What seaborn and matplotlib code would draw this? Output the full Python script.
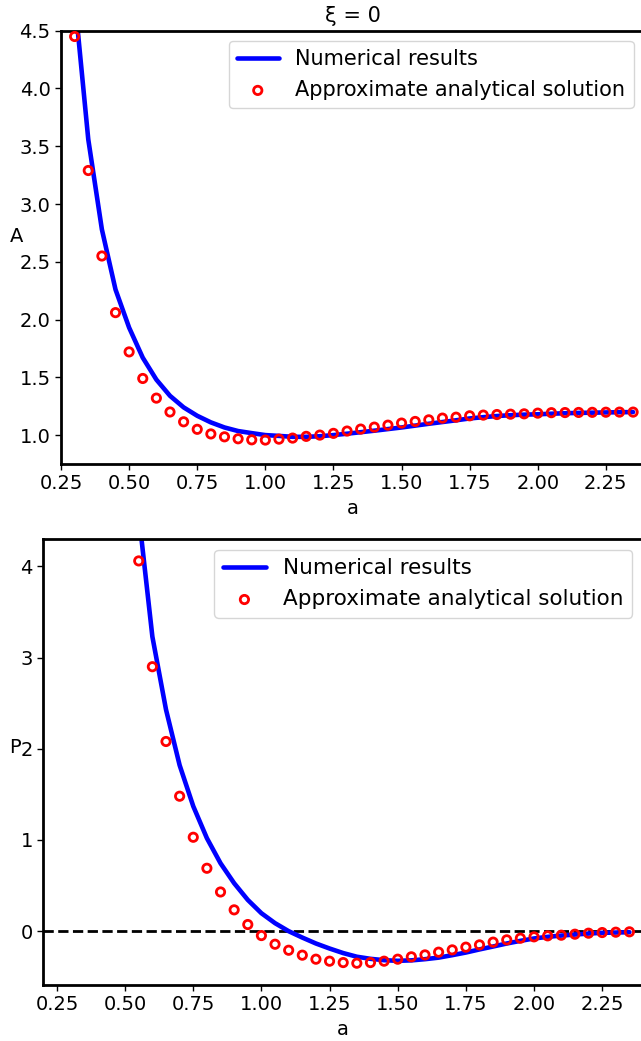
import numpy as np
import pandas as pd
import matplotlib
matplotlib.use("Agg")
import matplotlib.pyplot as plt
import seaborn as sns

# --- data ---
a_pts = np.round(np.arange(0.30, 2.351, 0.05), 2)
A_approx = [4.45, 3.29, 2.55, 2.06, 1.72, 1.49, 1.32, 1.20, 1.115, 1.05,
            1.01, 0.985, 0.968, 0.959, 0.957, 0.965, 0.974, 0.989, 1.00, 1.015,
            1.035, 1.052, 1.069, 1.086, 1.104, 1.118, 1.132, 1.147, 1.155, 1.167,
            1.173, 1.178, 1.181, 1.184, 1.19, 1.194, 1.195, 1.196, 1.197, 1.198,
            1.199, 1.199]
A_num = [4.78, 3.56, 2.78, 2.26, 1.93, 1.67, 1.48, 1.34, 1.24, 1.167,
         1.11, 1.066, 1.035, 1.017, 1.0, 0.993, 0.985, 0.985, 0.99, 1.0,
         1.012, 1.025, 1.038, 1.052, 1.066, 1.082, 1.098, 1.113, 1.128, 1.144,
         1.155, 1.165, 1.172, 1.177, 1.18, 1.185, 1.189, 1.192, 1.194, 1.196,
         1.198, 1.199]

a_p2 = np.round(np.arange(0.55, 2.351, 0.05), 2)
P2_approx = [4.06, 2.90, 2.08, 1.48, 1.03, 0.69, 0.43, 0.234, 0.073, -0.048,
             -0.143, -0.209, -0.263, -0.307, -0.329, -0.344, -0.351, -0.344, -0.329, -0.307,
             -0.281, -0.26, -0.23, -0.205, -0.175, -0.15, -0.12, -0.095, -0.077, -0.062,
             -0.051, -0.044, -0.033, -0.022, -0.015, -0.011, -0.007]
P2_num = [4.57, 3.23, 2.43, 1.82, 1.37, 1.02, 0.745, 0.526, 0.343, 0.197,
          0.088, 0.0, -0.07, -0.135, -0.19, -0.24, -0.28, -0.303, -0.318, -0.325,
          -0.32, -0.307, -0.29, -0.263, -0.234, -0.20, -0.168, -0.135, -0.106, -0.08,
          -0.062, -0.048, -0.037, -0.026, -0.018, -0.015, -0.011]

xticks = [0.25, 0.50, 0.75, 1.00, 1.25, 1.50, 1.75, 2.00, 2.25]

sns.set_style("ticks")
plt.rcParams['font.family'] = ['DejaVu Sans']
plt.rcParams['font.size'] = 14
for key in ['text.color', 'axes.labelcolor', 'xtick.color', 'ytick.color']:
    plt.rcParams[key] = 'black'

fig = plt.figure(figsize=(6.41, 10.41), dpi=100)
ax1 = fig.add_axes([0.0952, 0.5543, 0.9095, 0.4162])
ax2 = fig.add_axes([0.0676, 0.0538, 0.9356, 0.4284])


def draw(ax, x, y_num, y_approx, legend_size):
    sns.lineplot(x=x, y=y_num, ax=ax, color="blue", lw=3.3, label="Numerical results")
    sns.scatterplot(x=x, y=y_approx, ax=ax, marker="o", s=36, facecolor="none",
                    edgecolor="red", linewidth=2, label="Approximate analytical solution",
                    zorder=3)
    ax.legend(loc="upper right", fontsize=legend_size)
    for sp in ax.spines.values():
        sp.set_linewidth(2)
        sp.set_color("black")
    ax.tick_params(labelsize=14, width=1, length=4)
    ax.set_xticks(xticks)
    ax.set_xticklabels([f"{t:.2f}" for t in xticks])
    ax.set_xlabel("a", fontsize=14)


draw(ax1, a_pts, A_num, A_approx, 15)
ax1.set_xlim(0.25, 2.39)
ax1.set_ylim(0.75, 4.5)
ax1.set_ylabel("A", rotation=0, fontsize=14, va="center", ha="center")
ax1.yaxis.set_label_coords(-0.077, 0.524)
ax1.set_title("ξ = 0", fontsize=15)

draw(ax2, a_p2, P2_num, P2_approx, 15.5)
ax2.axhline(0, color="black", ls="--", lw=2, zorder=1)
ax2.set_xlim(0.2, 2.4)
ax2.set_ylim(-0.59, 4.3)
ax2.set_yticks([0, 1, 2, 3, 4])
ax2.set_ylabel("P", rotation=0, fontsize=14, va="center", ha="center")
ax2.yaxis.set_label_coords(-0.047, 0.533)

fig.savefig("out.png", dpi=100)
